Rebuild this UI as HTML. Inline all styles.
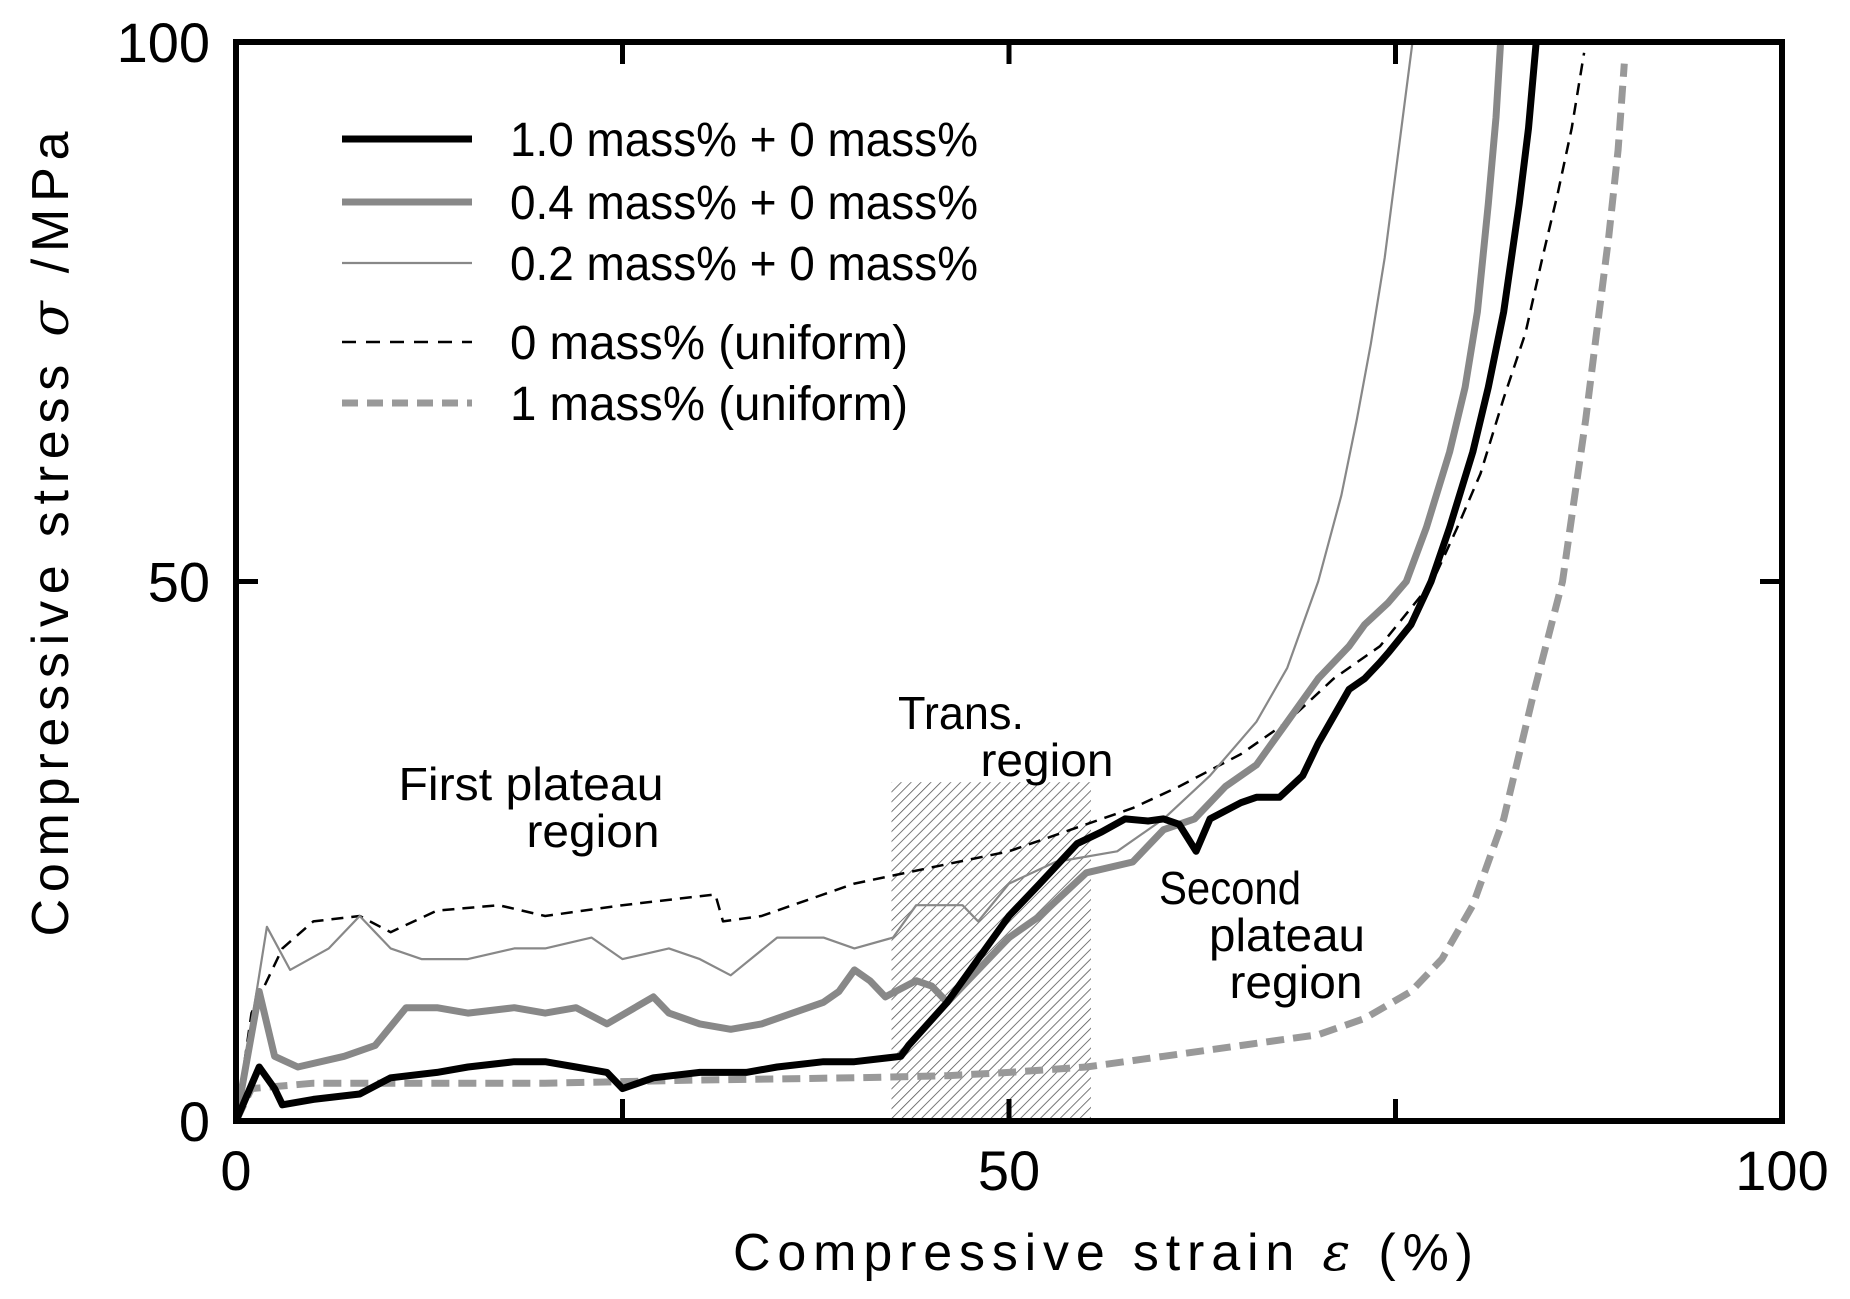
<!DOCTYPE html>
<html><head><meta charset="utf-8"><style>
html,body{margin:0;padding:0;background:#fff}
svg{display:block}
text{font-family:"Liberation Sans",sans-serif;fill:#000}
</style></head><body>
<svg id="chart" width="1850" height="1299" viewBox="0 0 1850 1299" xmlns="http://www.w3.org/2000/svg">
<defs>
<pattern id="hatch" patternUnits="userSpaceOnUse" width="7" height="7" patternTransform="rotate(45)">
<line x1="0" y1="0" x2="0" y2="7" stroke="#555" stroke-width="1.6"/>
</pattern>
<clipPath id="plotclip"><rect x="236" y="42" width="1546" height="1079"/></clipPath>
</defs>
<g id="regions"></g>
<g id="series" clip-path="url(#plotclip)"></g>
<g id="axes"></g>
<g id="legend"></g>
<g id="notes"></g>
</svg>
<script>
const xTicks = [0, 50, 100];
const yTicks = [0, 50, 100];
const minorXTicks = [25, 75];
const transRegion = [42.4, 55.3, 31.4];

const s10x = [0,1.5,2.5,3,5,8,10,13,15,18,20,22,24,25,27,30,33,35,38,40,43,43.5,46,48,50,52,54.4,56,57.5,59,60,61,62.1,63,65,66,67.5,69,70,72,73,74,74.6,76,77.3,78.5,80,81,82,83,83.6,84.1];
const s10y = [0,5,3,1.5,2,2.5,4,4.5,5,5.5,5.5,5,4.5,3,4,4.5,4.5,5,5.5,5.5,6,7,11,15,19,22,25.7,26.8,28,27.8,28,27.5,25,28,29.5,30,30,32,35,40,41,42.5,43.5,46,50,55,62,68,75,85,92,100];
const s04x = [0,1.5,2.5,4,7,9,11,13,15,18,20,22,24,27,28,30,32,34,36,38,39,40,41,42,44,45,46,48,50,52,55,58,60,62,64,66,68,70,72,73,74.5,75.7,77,78.5,79.5,80.3,81,81.5,81.8];
const s04y = [0,12,6,5,6,7,10.5,10.5,10,10.5,10,10.5,9,11.5,10,9,8.5,9,10,11,12,14,13,11.5,13,12.5,11,14,17,19,23,24,27,28,31,33,37,41,44,46,48,50,55,62,68,75,85,93,100];
const s02x = [0,2,3.5,6,8,10,12,15,18,20,23,25,28,30,32,35,38,40,42.5,44,47,48,50,53,57,60,63,66,68,70,71.5,72.5,73.4,74.3,75.2,76.1];
const s02y = [0,18,14,16,19,16,15,15,16,16,17,15,16,15,13.5,17,17,16,17,20,20,18.5,22,24,25,28,32,37,42,50,58,65,72,80,90,100];
const s0ux = [0,1,3,5,8,10,13,17,20,25,31,31.5,34,40,45,50,55,58,61,65,68,71,74,77.4,79,80.5,82,83.4,84.5,85.5,86.4,87.2];
const s0uy = [0,10,16,18.5,19,17.5,19.5,20,19,20,21,18.5,19,22,23.5,25,27.5,29,31,34,37,41,44,50,55,60,67,73,80,86,92,99];
const s1ux = [0,1,5,10,20,30,40,46,50,55,60,65,70,73,76,78,80,82,84,84.9,85.8,86.6,87.3,88,88.8,89.4,89.8];
const s1uy = [0,3,3.5,3.5,3.5,3.8,4,4.2,4.5,5,6,7,8,9.5,12,15,20,28,40,45,50,58,65,73,82,90,98];

const legendLabels = ["1.0 mass% + 0 mass%","0.4 mass% + 0 mass%","0.2 mass% + 0 mass%","0 mass% (uniform)","1 mass% (uniform)"];

const L=236,R=1782,T=42,B=1121;
function X(v){return L+(R-L)*v/100;}
function Y(v){return B-(B-T)*v/100;}
const NS="http://www.w3.org/2000/svg";
function mk(tag,attrs,parent){const e=document.createElementNS(NS,tag);for(const k in attrs)e.setAttribute(k,attrs[k]);parent.appendChild(e);return e;}

const reg=document.getElementById('regions');
const hr=mk('rect',{x:X(transRegion[0]),y:Y(transRegion[2]),width:X(transRegion[1])-X(transRegion[0]),height:B-Y(transRegion[2]),fill:'url(#hatch)'},reg);



const styles=[
 {xs:s1ux,ys:s1uy,stroke:'#999',w:7,dash:'18 9',name:'series-1-mass-uniform'},
 {xs:s0ux,ys:s0uy,stroke:'#000',w:2.5,dash:'12 8',name:'series-0-mass-uniform'},
 {xs:s02x,ys:s02y,stroke:'#888',w:2.2,dash:'',name:'series-0-2-mass'},
 {xs:s04x,ys:s04y,stroke:'#888',w:7,dash:'',name:'series-0-4-mass'},
 {xs:s10x,ys:s10y,stroke:'#000',w:7,dash:'',name:'series-1-0-mass'}
];
const ser=document.getElementById('series');
styles.forEach(s=>{
 const d=s.xs.map((x,i)=>(i?'L':'M')+X(x).toFixed(1)+','+Y(s.ys[i]).toFixed(1)).join(' ');
 const p=mk('path',{d:d,fill:'none',stroke:s.stroke,'stroke-width':s.w,'stroke-linejoin':'round'},ser);
 if(s.dash)p.setAttribute('stroke-dasharray',s.dash);
 
 
});

const ax=document.getElementById('axes');
const fr=mk('rect',{x:L,y:T,width:R-L,height:B-T,fill:'none',stroke:'#000','stroke-width':6},ax);


xTicks.concat(minorXTicks).forEach(v=>{
 if(v===0||v===100)return;
 const t1=mk('line',{x1:X(v),y1:B,x2:X(v),y2:B-22,stroke:'#000','stroke-width':5},ax);
 
 
 const t2=mk('line',{x1:X(v),y1:T,x2:X(v),y2:T+22,stroke:'#000','stroke-width':5},ax);
 
 
});
yTicks.forEach(v=>{
 if(v===0||v===100)return;
 const t1=mk('line',{x1:L,y1:Y(v),x2:L+22,y2:Y(v),stroke:'#000','stroke-width':5},ax);
 
 
 const t2=mk('line',{x1:R,y1:Y(v),x2:R-22,y2:Y(v),stroke:'#000','stroke-width':5},ax);
 
 
});
xTicks.forEach(v=>{
 const t=mk('text',{x:X(v),y:1190,'text-anchor':'middle','font-size':56},ax);t.textContent=v;
 
 
});
yTicks.forEach(v=>{
 const t=mk('text',{x:210,y:Y(v)+20,'text-anchor':'end','font-size':56},ax);t.textContent=v;
 
 
});
const xt=mk('text',{x:1103,y:1270,'text-anchor':'middle','font-size':52,textLength:740,lengthAdjust:'spacing'},ax);
xt.innerHTML='Compressive strain  <tspan font-style="italic" font-family="DejaVu Serif">ε</tspan> (%)';


const yt=mk('text',{x:0,y:0,'text-anchor':'middle','font-size':52,textLength:805,lengthAdjust:'spacing',transform:'translate(68,534) rotate(-90)'},ax);
yt.innerHTML='Compressive stress  <tspan font-style="italic" font-family="DejaVu Serif">σ</tspan> /MPa';



const lg=document.getElementById('legend');
const ly=[139,202,263,342,403];
legendLabels.forEach((lab,i)=>{
 const s=styles[4-i];
 const g=mk('g',{},lg);
 
 
 const ln=mk('line',{x1:342,y1:ly[i],x2:472,y2:ly[i],stroke:s.stroke,'stroke-width':s.w},g);
 if(s.dash)ln.setAttribute('stroke-dasharray',i===3?'14 10':'16 9');
 const t=mk('text',{x:510,y:ly[i]+17,'font-size':48,textLength:i<3?468:398,lengthAdjust:'spacingAndGlyphs'},g);
 t.textContent=lab;
});

const nt=document.getElementById('notes');
const notes=[
 ['First plateau',531,800,265],['region',593,847,133],
 ['Trans.',961,729,126],['region',1047,776,133],
 ['Second',1230,904,142],['plateau',1287,951,156],['region',1296,998,133]
];
notes.forEach(n=>{
 const t=mk('text',{x:n[1],y:n[2],'text-anchor':'middle','font-size':46,textLength:n[3],lengthAdjust:'spacingAndGlyphs'},nt);
 t.textContent=n[0];
 
 
});
</script>
</body></html>
